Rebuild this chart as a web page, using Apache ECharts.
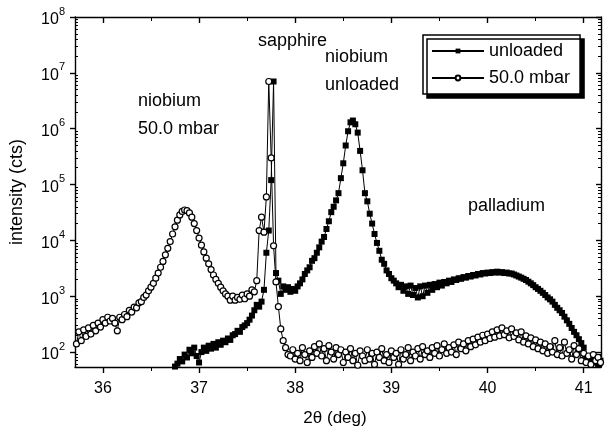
<!DOCTYPE html>
<html>
<head>
<meta charset="utf-8">
<script src="https://cdn.jsdelivr.net/npm/echarts@6/dist/echarts.min.js"></script>
<style>html,body{margin:0;padding:0;background:#fff;}#c{width:605px;height:432px;}</style>
</head>
<body>
<div id="c"></div>
<script>
// 2-theta sampling grid (deg)
const angle = [35.725,35.75,35.775,
35.8,35.825,35.85,35.875, 35.9,35.925,35.95,35.975,
36.0,36.025,36.05,36.075, 36.1,36.125,36.15,36.175, 36.2,36.225,36.25,36.275, 36.3,36.325,36.35,36.375, 36.4,36.425,36.45,36.475,
36.5,36.525,36.55,36.575, 36.6,36.625,36.65,36.675, 36.7,36.725,36.75,36.775, 36.8,36.825,36.85,36.875, 36.9,36.925,36.95,36.975,
37.0,37.025,37.05,37.075, 37.1,37.125,37.15,37.175, 37.2,37.225,37.25,37.275, 37.3,37.325,37.35,37.375, 37.4,37.425,37.45,37.475,
37.5,37.525,37.55,37.575, 37.6,37.625,37.65,37.675, 37.7,37.725,37.75,37.775, 37.8,37.825,37.85,37.875, 37.9,37.925,37.95,37.975,
38.0,38.025,38.05,38.075, 38.1,38.125,38.15,38.175, 38.2,38.225,38.25,38.275, 38.3,38.325,38.35,38.375, 38.4,38.425,38.45,38.475,
38.5,38.525,38.55,38.575, 38.6,38.625,38.65,38.675, 38.7,38.725,38.75,38.775, 38.8,38.825,38.85,38.875, 38.9,38.925,38.95,38.975,
39.0,39.025,39.05,39.075, 39.1,39.125,39.15,39.175, 39.2,39.225,39.25,39.275, 39.3,39.325,39.35,39.375, 39.4,39.425,39.45,39.475,
39.5,39.525,39.55,39.575, 39.6,39.625,39.65,39.675, 39.7,39.725,39.75,39.775, 39.8,39.825,39.85,39.875, 39.9,39.925,39.95,39.975,
40.0,40.025,40.05,40.075, 40.1,40.125,40.15,40.175, 40.2,40.225,40.25,40.275, 40.3,40.325,40.35,40.375, 40.4,40.425,40.45,40.475,
40.5,40.525,40.55,40.575, 40.6,40.625,40.65,40.675, 40.7,40.725,40.75,40.775, 40.8,40.825,40.85,40.875, 40.9,40.925,40.95,40.975,
41.0,41.025,41.05,41.075, 41.1,41.125,41.15,41.175];

// 50.0 mbar intensity (cts), one value per angle
const mbar50 = [140,230,160,
250,190,270,210, 300,240,330,280,
380,330,420,360, 400,330,240,420, 380,470,430,560, 520,640,620,760, 800,950,1050,1250,
1450,1700,2100,2600, 3300,4200,5500,7200, 9500,13000,17500,23000, 28500,33000,35000,34000, 31000,26000,20000,15000,
11000,8200,6200,4800, 3800,3000,2400,2000, 1700,1450,1250,1100, 1000,850,1000,850, 950,880,1050,900,
1100,1000,1300,1200, 1900,15000,26000,14000, 60000,7000000,300000,8000, 1800,650,260,160, 120,90,85,110,
75,95,70,120, 90,65,105,80, 125,95,140,85, 115,70,130,100, 75,120,90,110,
65,100,80,115, 70,95,58,105, 85,70,110,75, 95,60,100,80, 115,70,90,65,
105,80,95,60, 110,75,90,120, 70,100,85,115, 75,125,90,105, 80,120,95,130,
85,110,140,95, 120,100,135,90, 150,115,140,105, 160,125,170,135, 185,150,200,160,
210,175,230,185, 250,195,270,205, 240,180,260,190, 220,165,230,150, 195,140,180,125,
165,115,150,105, 140,95,125,100, 160,90,120,85, 150,95,110,75, 130,90,115,70,
95,65,85,60, 90,70,80,65];

// unloaded intensity (cts), starting at 36.7 deg
const unloadedStart = 36.7;
const unloaded = [50,52,55,62, 75,68,90,80, 110,95,120,85,
65,100,120,105, 130,115,140,120, 150,135,160,150, 175,165,200,210, 240,230,280,300,
330,380,450,560, 700,650,800,1300, 6000,15000,120000,7000000, 2600,1900,1100,1500, 1300,1450,1200,1350,
1250,1500,1700,2000, 2500,2900,3300,4300, 4800,6000,7500,9500, 11500,16000,22000,32000, 40000,52000,70000,130000,
240000,500000,900000,1300000, 1400000,1200000,850000,400000, 180000,70000,50000,30000, 20000,13000,9000,6500, 4500,3800,2900,2500,
2100,1900,1700,1450, 1600,1250,1500,1100, 1550,1050,1400,950, 1500,1000,1550,1150, 1600,1300,1650,1450,
1750,1550,1800,1700, 1900,1800,2000,1950, 2100,2050,2200,2150, 2300,2250,2400,2350, 2500,2450,2600,2550,
2650,2600,2700,2650, 2750,2650,2700,2600, 2650,2550,2550,2450, 2350,2250,2150,2050, 1950,1820,1700,1580,
1450,1350,1250,1150, 1050,950,880,800, 700,620,560,500, 430,370,320,270, 230,200,170,145,
120,85,70,80, 65,75,60,70];

const seriesNames = ['unloaded', '50.0 mbar'];
const xTicks = [36, 37, 38, 39, 40, 41];
const xMinorTicks = [36.5, 37.5, 38.5, 39.5, 40.5];
const yTicks = [1e2, 1e3, 1e4, 1e5, 1e6, 1e7, 1e8];
const yMinorTicks = [60,70,80,90, 200,300,400,500,600,700,800,900, 2e3,3e3,4e3,5e3,6e3,7e3,8e3,9e3,
  2e4,3e4,4e4,5e4,6e4,7e4,8e4,9e4, 2e5,3e5,4e5,5e5,6e5,7e5,8e5,9e5, 2e6,3e6,4e6,5e6,6e6,7e6,8e6,9e6,
  2e7,3e7,4e7,5e7,6e7,7e7,8e7,9e7];
const annotations = [
  {text: 'sapphire', x: 258, y: 42},
  {text: 'niobium', x: 325, y: 58},
  {text: 'unloaded', x: 325, y: 86},
  {text: 'niobium', x: 138, y: 102},
  {text: '50.0 mbar', x: 138, y: 130},
  {text: 'palladium', x: 468, y: 207}
];

const FONT = 'Liberation Sans, Arial, sans-serif';
const off = angle.indexOf(unloadedStart);
const dataUn = unloaded.map((v, i) => [angle[off + i], v]);
const data50 = mbar50.map((v, i) => [angle[i], v]);

const X_MIN = 35.71, X_MAX = 41.18, Y_MIN = 54, Y_MAX = 1e8;
const axisLineStyle = {show: true, lineStyle: {color: '#000', width: 1.4}};

function xAx(opts) {
  return Object.assign({
    type: 'value', min: X_MIN, max: X_MAX, gridIndex: 0,
    splitLine: {show: false}, axisLine: {show: false},
    axisLabel: {show: false}, axisTick: {show: false}
  }, opts);
}
function yAx(opts) {
  return Object.assign({
    type: 'log', logBase: 10, min: Y_MIN, max: Y_MAX, gridIndex: 0,
    splitLine: {show: false}, axisLine: {show: false},
    axisLabel: {show: false}, axisTick: {show: false}
  }, opts);
}

const chart = echarts.init(document.getElementById('c'), null, {renderer: 'canvas'});
chart.setOption({
  animation: false,
  backgroundColor: '#fff',
  grid: {left: 75, top: 17, right: 4, bottom: 65, containLabel: false, outerBoundsMode: 'none'},
  xAxis: [
    xAx({position: 'bottom', axisLine: axisLineStyle,
      axisTick: {show: true, customValues: xTicks, length: 6, inside: false, lineStyle: {color: '#000', width: 1.4}},
      axisLabel: {show: true, customValues: xTicks, margin: 14, fontSize: 16, fontFamily: FONT, color: '#000'}}),
    xAx({position: 'bottom', axisTick: {show: true, customValues: xMinorTicks, length: 4, inside: false, lineStyle: {color: '#000', width: 1}}}),
    xAx({position: 'top', axisLine: axisLineStyle,
      axisTick: {show: true, customValues: xTicks, length: 6, inside: true, lineStyle: {color: '#000', width: 1.4}}}),
    xAx({position: 'top', axisTick: {show: true, customValues: xMinorTicks, length: 4, inside: true, lineStyle: {color: '#000', width: 1}}})
  ],
  yAxis: [
    yAx({position: 'left', axisLine: axisLineStyle,
      axisTick: {show: true, customValues: yTicks, length: 5, inside: false, lineStyle: {color: '#000', width: 1.4}},
      axisLabel: {show: true, customValues: yTicks, margin: 10,
        formatter: function (v) { return '{b|10}{s|' + Math.round(Math.log10(v)) + '}'; },
        rich: {
          b: {fontSize: 16, fontFamily: FONT, color: '#000', lineHeight: 22, verticalAlign: 'bottom'},
          s: {fontSize: 11, fontFamily: FONT, color: '#000', lineHeight: 22, verticalAlign: 'top'}
        }}}),
    yAx({position: 'left', axisTick: {show: true, customValues: yMinorTicks, length: 3, inside: true, lineStyle: {color: '#000', width: 1}}}),
    yAx({position: 'right', axisLine: axisLineStyle,
      axisTick: {show: true, customValues: yTicks, length: 5, inside: true, lineStyle: {color: '#000', width: 1.4}}}),
    yAx({position: 'right', axisTick: {show: true, customValues: yMinorTicks, length: 3, inside: true, lineStyle: {color: '#000', width: 1}}})
  ],
  legend: {
    orient: 'vertical', left: 423, top: 35,
    data: seriesNames,
    itemWidth: 52, itemHeight: 6, itemGap: 9,
    padding: [7, 10, 7, 8],
    borderColor: '#000', borderWidth: 1.5, backgroundColor: '#fff',
    shadowColor: '#000', shadowBlur: 0, shadowOffsetX: 4, shadowOffsetY: 4,
    textStyle: {fontSize: 18, fontFamily: FONT, color: '#000'}
  },
  series: [
    {
      name: seriesNames[0], type: 'line', xAxisIndex: 0, yAxisIndex: 0,
      data: dataUn, symbol: 'rect', symbolSize: 6, showSymbol: true,
      itemStyle: {color: '#000'}, lineStyle: {color: '#000', width: 1},
      clip: true, z: 2
    },
    {
      name: seriesNames[1], type: 'line', xAxisIndex: 0, yAxisIndex: 0,
      data: data50, symbol: 'circle', symbolSize: 6, showSymbol: true,
      itemStyle: {color: '#fff', borderColor: '#000', borderWidth: 1.2},
      lineStyle: {color: '#000', width: 1},
      clip: true, z: 3
    }
  ],
  graphic: annotations.map(a => ({
    type: 'text', left: a.x, top: a.y - 10,
    style: {text: a.text, fontSize: 18, fontFamily: FONT, fill: '#000'}
  })).concat([
    {type: 'text', x: 17, y: 192, rotation: Math.PI / 2,
      style: {text: 'intensity (cts)', fontSize: 18, fontFamily: FONT, fill: '#000', align: 'center', verticalAlign: 'middle'}},
    {type: 'text', x: 335, y: 418,
      style: {text: '2θ (deg)', fontSize: 17, fontFamily: FONT, fill: '#000', align: 'center', verticalAlign: 'middle'}}
  ])
});
</script>
</body>
</html>
